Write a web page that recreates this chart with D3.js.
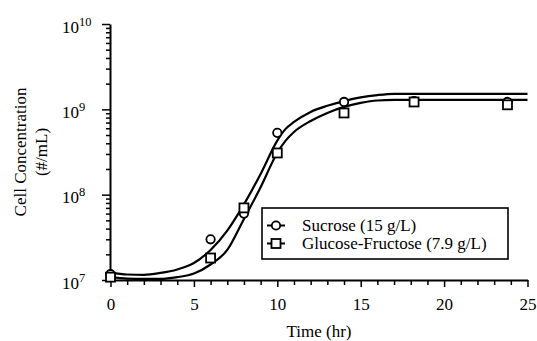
<!DOCTYPE html>
<html><head><meta charset="utf-8">
<script src="https://cdn.jsdelivr.net/npm/d3@7"></script>
<style>
body{margin:0;background:#fff}
svg{display:block}
text{font-family:"Liberation Serif","Times New Roman",serif;fill:#000}
</style>
</head><body>
<svg id="c" width="537" height="341"></svg>
<script>
// ---- data ----
const xTickValues = [0, 5, 10, 15, 20, 25];
const yTickExponents = [7, 8, 9, 10];
const seriesNames = ["Sucrose (15 g/L)", "Glucose-Fructose (7.9 g/L)"];

const sucroseTime = [0, 6, 8, 10, 14, 18.2, 23.8];
const sucroseConc = [1.17e7, 3.0e7, 6.0e7, 5.3e8, 1.22e9, 1.25e9, 1.22e9];

const glucoseTime = [0, 6, 8, 10, 14, 18.2, 23.8];
const glucoseConc = [1.08e7, 1.81e7, 7.0e7, 3.08e8, 9.07e8, 1.22e9, 1.13e9];

const fitTime = [0, 1, 2, 3, 4, 5, 6, 7, 8, 9, 10, 10.5, 11, 12, 13, 14, 15, 16, 17, 25];
const sucroseFit = [1.21e7, 1.16e7, 1.15e7, 1.21e7, 1.33e7, 1.58e7, 2.25e7, 3.8e7, 7.7e7, 1.75e8,
                    4.3e8, 5.9e8, 7.11e8, 9.33e8, 1.10e9, 1.25e9, 1.38e9, 1.47e9, 1.52e9, 1.52e9];
const glucoseFit = [1.08e7, 1.04e7, 1.03e7, 1.03e7, 1.08e7, 1.19e7, 1.52e7, 2.25e7, 5.2e7, 1.22e8,
                    3.1e8, 4.3e8, 5.43e8, 7.31e8, 9.08e8, 1.07e9, 1.19e9, 1.27e9, 1.29e9, 1.29e9];

// ---- chart ----
const svg = d3.select("#c");
const x = d3.scaleLinear().domain([0, 25]).range([110.5, 527.5]);
const y = d3.scaleLog().domain([1e7, 1e10]).range([280, 24]);

// x axis
const xMinor = d3.range(0, 26, 1).filter(v => v % 5 !== 0);
svg.append("g").attr("transform", "translate(0,280)")
  .call(d3.axisBottom(x).tickValues(xMinor).tickSize(5).tickSizeOuter(0).tickFormat(""))
  .call(g => g.select(".domain").remove())
  .call(g => g.selectAll("line").attr("stroke", "#000").attr("stroke-width", 1.5));
svg.append("g").attr("transform", "translate(0,280)")
  .call(d3.axisBottom(x).tickValues(xTickValues).tickSize(7).tickSizeOuter(0).tickPadding(11).tickFormat(d3.format("d")))
  .call(g => g.select(".domain").attr("stroke", "#000").attr("stroke-width", 2))
  .call(g => g.selectAll("line").attr("stroke", "#000").attr("stroke-width", 1.5))
  .call(g => g.selectAll("text").attr("font-size", 17).attr("font-family", "Liberation Serif"));

// y axis
const yMinor = [];
yTickExponents.slice(0, -1).forEach(e => { for (let k = 2; k <= 9; k++) yMinor.push(k * Math.pow(10, e)); });
svg.append("g").attr("transform", "translate(110,0)")
  .call(d3.axisLeft(y).tickValues(yMinor).tickSize(4).tickSizeOuter(0).tickFormat(""))
  .call(g => g.select(".domain").remove())
  .call(g => g.selectAll("line").attr("stroke", "#000").attr("stroke-width", 1.5));
const yMajor = yTickExponents.map(e => Math.pow(10, e));
svg.append("g").attr("transform", "translate(110,0)")
  .call(d3.axisLeft(y).tickValues(yMajor).tickSize(8).tickSizeOuter(0).tickFormat(""))
  .call(g => g.select(".domain").attr("stroke", "#000").attr("stroke-width", 2))
  .call(g => g.selectAll("line").attr("stroke", "#000").attr("stroke-width", 1.5));
const yl = svg.append("g").selectAll("text").data(yTickExponents).join("text")
  .attr("x", 62).attr("y", e => y(Math.pow(10, e)) + 8.5).attr("font-size", 17);
yl.append("tspan").text("10");
yl.append("tspan").attr("dy", -7).attr("font-size", 12.5).text(e => e);

// axis titles
svg.append("text").attr("x", 319).attr("y", 337).attr("text-anchor", "middle")
  .attr("font-size", 17).text("Time (hr)");
svg.append("text").attr("transform", "translate(26,152) rotate(-90)").attr("text-anchor", "middle")
  .attr("font-size", 17).text("Cell Concentration");
svg.append("text").attr("transform", "translate(47,152) rotate(-90)").attr("text-anchor", "middle")
  .attr("font-size", 17).text("(#/mL)");

// fitted curves
const line = d3.line().x(d => x(d[0])).y(d => y(d[1])).curve(d3.curveMonotoneX);
[sucroseFit, glucoseFit].forEach(vals => {
  svg.append("path").datum(fitTime.map((t, i) => [t, vals[i]]))
    .attr("d", line).attr("fill", "none").attr("stroke", "#000").attr("stroke-width", 2.2);
});

// markers
function circle(g, cx, cy) {
  g.append("circle").attr("cx", cx).attr("cy", cy).attr("r", 4.2)
    .attr("fill", "#fff").attr("stroke", "#000").attr("stroke-width", 1.8);
}
function square(g, cx, cy) {
  g.append("rect").attr("x", cx - 4.5).attr("y", cy - 4.5).attr("width", 9).attr("height", 9)
    .attr("fill", "#fff").attr("stroke", "#000").attr("stroke-width", 1.8);
}
const mk = svg.append("g");
sucroseTime.forEach((t, i) => circle(mk, x(t), y(sucroseConc[i])));
glucoseTime.forEach((t, i) => square(mk, x(t), y(glucoseConc[i])));

// legend
const lg = svg.append("g");
lg.append("rect").attr("x", 262).attr("y", 208).attr("width", 246).attr("height", 51)
  .attr("fill", "#fff").attr("stroke", "#000").attr("stroke-width", 1.6);
seriesNames.forEach((name, i) => {
  const cy = 225.5 + i * 18;
  lg.append("line").attr("x1", 267).attr("x2", 285).attr("y1", cy).attr("y2", cy)
    .attr("stroke", "#000").attr("stroke-width", 2);
  if (i === 0) circle(lg, 276, cy); else square(lg, 276, cy);
  lg.append("text").attr("x", 302).attr("y", cy + 5.5).attr("font-size", 17).text(name);
});
</script>
</body></html>
